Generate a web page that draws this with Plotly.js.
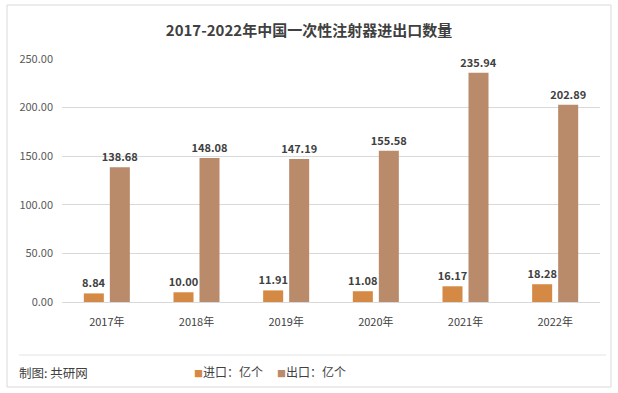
<!DOCTYPE html>
<html><head><meta charset="utf-8">
<script src="https://cdn.plot.ly/plotly-3.0.1.min.js"></script>
<style>html,body{margin:0;padding:0;background:#fff}#c{width:618px;height:393px}</style>
</head><body><div id="c"></div>
<script>
const years = ['2017年','2018年','2019年','2020年','2021年','2022年'];
const importVals = [8.84, 10.00, 11.91, 11.08, 16.17, 18.28];
const exportVals = [138.68, 148.08, 147.19, 155.58, 235.94, 202.89];
const seriesNames = ['进口：亿个','出口：亿个'];
const tickVals = [0, 50, 100, 150, 200, 250];
const tickText = ['0.00','50.00','100.00','150.00','200.00','250.00'];
const colors = ['#D48A45', '#B98B6B'];

const F = '"Noto Sans CJK SC", "Noto Sans", sans-serif';
const L = 62, R = 600, T = 59, B = 302;
const px = x => (x - L) / (R - L);
const py = y => (B - y) / (B - T);

const common = {
  type: 'bar', x: years, texttemplate: '%{y:.2f}', textposition: 'outside', constraintext: 'none',
  cliponaxis: false, textfont: {family: F, size: 11, color: '#404040', weight: 'bold'},
  hoverinfo: 'skip'
};
const data = [
  Object.assign({}, common, {name: seriesNames[0], y: importVals, marker: {color: colors[0]}}),
  Object.assign({}, common, {name: seriesNames[1], y: exportVals, marker: {color: colors[1]}})
];
const legendAnn = seriesNames.map((n, i) => ({
  xref: 'paper', yref: 'paper', x: px(192 + i * 83), y: py(371), xanchor: 'left', yanchor: 'middle', showarrow: false,
  text: '<span style="color:' + colors[i] + ';font-size:9px">■</span>' + n,
  font: {family: F, size: 12, color: '#404040'}
}));
const layout = {
  width: 618, height: 393,
  margin: {l: L, r: 618 - R, t: T, b: 393 - B},
  paper_bgcolor: '#fff', plot_bgcolor: '#fff',
  font: {family: F, size: 11, color: '#595959'},
  title: {text: '<b>2017-2022年中国一次性注射器进出口数量</b>', x: 0.5, xanchor: 'center', y: 1 - 31/393, yanchor: 'middle',
          font: {family: F, size: 15, color: '#404040'}},
  barmode: 'group', bargap: 0.42, bargroupgap: 0.23,
  xaxis: {showgrid: false, showline: true, linecolor: '#d9d9d9', ticks: '', ticklabelstandoff: 10,
          tickfont: {size: 11, color: '#404040'}, fixedrange: true},
  yaxis: {range: [0, 250], tickvals: tickVals, ticktext: tickText, showgrid: true, gridcolor: '#d9d9d9', zeroline: false,
          showline: false, ticks: '', ticklabelstandoff: 8, tickfont: {size: 11, color: '#595959'}, fixedrange: true},
  showlegend: false,
  shapes: [
    {type: 'rect', xref: 'paper', yref: 'paper', x0: px(7), x1: px(611), y0: py(5), y1: py(387), line: {color: '#d9d9d9', width: 1}},
    {type: 'line', xref: 'paper', yref: 'paper', x0: px(19), x1: px(606), y0: py(355), y1: py(355), line: {color: '#e3e3e3', width: 1}}
  ],
  annotations: [
    {xref: 'paper', yref: 'paper', x: px(17), y: py(372), xanchor: 'left', yanchor: 'middle', showarrow: false,
     text: '制图: 共研网', font: {family: F, size: 12.5, color: '#404040'}}
  ].concat(legendAnn)
};
Plotly.newPlot('c', data, layout, {displayModeBar: false, staticPlot: true});
</script></body></html>
